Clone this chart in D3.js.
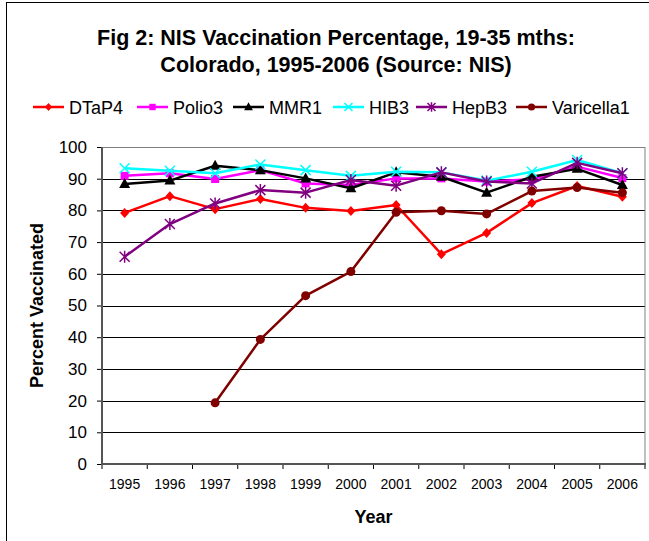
<!DOCTYPE html>
<meta charset="utf-8">
<style>
body { margin: 0; background: #fff; font-family: Arial, "Liberation Sans", sans-serif; }
svg text { font-family: Arial, "Liberation Sans", sans-serif; }
</style>
<body>
<script src="https://d3js.org/d3.v7.min.js"></script>
<script>
var years = ["1995","1996","1997","1998","1999","2000","2001","2002","2003","2004","2005","2006"];
var yTicks = [0,10,20,30,40,50,60,70,80,90,100];

var dtap4     = [79.2, 84.5, 80.4, 83.6, 80.8, 79.8, 81.7, 66.2, 72.9, 82.3, 87.7, 84.3];
var polio3    = [90.9, 91.7, 89.9, 92.7, 88.5, 88.0, 90.1, 90.1, 89.1, 89.8, 93.8, 90.2];
var mmr1      = [88.3, 89.4, 94.1, 92.7, 90.1, 87.0, 92.0, 90.6, 85.6, 90.6, 93.1, 88.0];
var hib3      = [93.3, 92.5, 91.7, 94.5, 92.7, 90.9, 92.2, 92.0, 89.4, 92.2, 95.9, 91.7];
var hepb3     = [65.4, 75.7, 82.2, 86.4, 85.6, 89.6, 87.8, 92.0, 89.1, 88.5, 95.0, 91.7];
var varicella = [null, null, 19.3, 39.3, 53.1, 60.7, 79.4, 79.9, 78.9, 86.1, 87.2, 85.6];

var series = [
  {name: "DTaP4", values: dtap4, color: "#ff0000", marker: "diamond"},
  {name: "Polio3", values: polio3, color: "#ff00ff", marker: "square"},
  {name: "MMR1", values: mmr1, color: "#000000", marker: "triangle"},
  {name: "HIB3", values: hib3, color: "#00ffff", marker: "x"},
  {name: "HepB3", values: hepb3, color: "#800080", marker: "star"},
  {name: "Varicella1", values: varicella, color: "#800000", marker: "circle"}
];

var width = 649, height = 541;
var plotLeft = 102, plotRight = 645, plotTop = 147, plotBottom = 464;

var svg = d3.select("body").append("svg")
    .attr("width", width)
    .attr("height", height);

// outer frame
svg.append("rect")
    .attr("x", 6.5).attr("y", 2.5)
    .attr("width", 660).attr("height", 600)
    .attr("fill", "none").attr("stroke", "#000").attr("stroke-width", 1);

var x = d3.scaleBand().domain(years).range([plotLeft, plotRight]);
var y = d3.scaleLinear().domain([0, 100]).range([plotBottom, plotTop]);

// gridlines
svg.append("g").selectAll("line")
    .data(yTicks.filter(function(d) { return d > 0 && d < 100; }))
  .enter().append("line")
    .attr("x1", plotLeft).attr("x2", plotRight)
    .attr("y1", function(d) { return Math.round(y(d)) + 0.5; })
    .attr("y2", function(d) { return Math.round(y(d)) + 0.5; })
    .attr("stroke", "#000").attr("stroke-width", 1);

// plot border
svg.append("rect")
    .attr("x", plotLeft).attr("y", plotTop + 0.5)
    .attr("width", plotRight - plotLeft).attr("height", plotBottom - plotTop)
    .attr("fill", "none").attr("stroke", "#808080").attr("stroke-width", 1);

// y axis
var yAxis = svg.append("g")
    .attr("transform", "translate(" + plotLeft + ",0)")
    .call(d3.axisLeft(y).tickValues(yTicks).tickSize(5).tickPadding(10));
yAxis.selectAll("text").attr("font-size", "17px").attr("fill", "#000");

// x axis
var xAxis = svg.append("g")
    .attr("transform", "translate(0," + plotBottom + ")")
    .call(d3.axisBottom(x).tickSize(0).tickPadding(15));
xAxis.selectAll("text").attr("font-size", "14px").attr("fill", "#000");
xAxis.select(".domain").remove();
yAxis.select(".domain").remove();

// category tick marks between bands
svg.append("g").selectAll("line")
    .data(d3.range(years.length + 1))
  .enter().append("line")
    .attr("x1", function(i) { return plotLeft + i * x.step(); })
    .attr("x2", function(i) { return plotLeft + i * x.step(); })
    .attr("y1", plotBottom).attr("y2", plotBottom + 5)
    .attr("stroke", "#000");

svg.append("line")
    .attr("x1", plotLeft).attr("x2", plotRight + 1)
    .attr("y1", plotBottom).attr("y2", plotBottom)
    .attr("stroke", "#555").attr("stroke-width", 2);
svg.append("line")
    .attr("x1", plotLeft).attr("x2", plotLeft)
    .attr("y1", plotTop).attr("y2", plotBottom + 1)
    .attr("stroke", "#555").attr("stroke-width", 2);

function cx(i) { return x(years[i]) + x.bandwidth() / 2; }

var line = d3.line()
    .defined(function(d) { return d != null; })
    .x(function(d, i) { return cx(i); })
    .y(function(d) { return y(d); });

function drawMarker(g, type, color, px, py, k) {
  k = k || 1;
  if (type === "diamond") {
    g.append("path").attr("d", "M" + px + "," + (py - 5 * k) + "L" + (px + 4.5 * k) + "," + py + "L" + px + "," + (py + 5 * k) + "L" + (px - 4.5 * k) + "," + py + "Z")
      .attr("fill", color);
  } else if (type === "square") {
    g.append("rect").attr("x", px - 4 * k).attr("y", py - 4 * k).attr("width", 8 * k).attr("height", 8 * k).attr("fill", color);
  } else if (type === "triangle") {
    g.append("path").attr("d", "M" + px + "," + (py - 6 * k) + "L" + (px + 5.5 * k) + "," + (py + 4 * k) + "L" + (px - 5.5 * k) + "," + (py + 4 * k) + "Z")
      .attr("fill", color);
  } else if (type === "x") {
    g.append("path").attr("d", "M" + (px - 5 * k) + "," + (py - 5 * k) + "L" + (px + 5 * k) + "," + (py + 5 * k) + "M" + (px + 5 * k) + "," + (py - 5 * k) + "L" + (px - 5 * k) + "," + (py + 5 * k))
      .attr("stroke", color).attr("stroke-width", 1.5);
  } else if (type === "star") {
    g.append("path").attr("d", "M" + (px - 5 * k) + "," + (py - 5 * k) + "L" + (px + 5 * k) + "," + (py + 5 * k) + "M" + (px + 5 * k) + "," + (py - 5 * k) + "L" + (px - 5 * k) + "," + (py + 5 * k) + "M" + px + "," + (py - 6 * k) + "L" + px + "," + (py + 6 * k))
      .attr("stroke", color).attr("stroke-width", 1.5);
  } else if (type === "circle") {
    g.append("circle").attr("cx", px).attr("cy", py).attr("r", 4.5 * k).attr("fill", color);
  }
}

series.forEach(function(s) {
  var g = svg.append("g");
  g.append("path")
    .datum(s.values)
    .attr("d", line)
    .attr("fill", "none")
    .attr("stroke", s.color)
    .attr("stroke-width", 2.5)
    .attr("stroke-linejoin", "round");
  s.values.forEach(function(v, i) {
    if (v != null) drawMarker(g, s.marker, s.color, cx(i), y(v));
  });
});

// titles
svg.append("text")
    .attr("x", 336).attr("y", 45)
    .attr("text-anchor", "middle")
    .attr("font-size", "21.5px").attr("font-weight", "bold")
    .text("Fig 2: NIS Vaccination Percentage, 19-35 mths:");
svg.append("text")
    .attr("x", 336).attr("y", 72)
    .attr("text-anchor", "middle")
    .attr("font-size", "21.5px").attr("font-weight", "bold")
    .text("Colorado, 1995-2006 (Source: NIS)");

svg.append("text")
    .attr("x", (plotLeft + plotRight) / 2).attr("y", 523)
    .attr("text-anchor", "middle")
    .attr("font-size", "18px").attr("font-weight", "bold")
    .text("Year");

svg.append("text")
    .attr("transform", "translate(43," + ((plotTop + plotBottom) / 2) + ") rotate(-90)")
    .attr("text-anchor", "middle")
    .attr("font-size", "18px").attr("font-weight", "bold")
    .text("Percent Vaccinated");

// legend
var legendX = [33, 137, 233, 333, 416, 516];
var legend = svg.append("g");
series.forEach(function(s, i) {
  var lx = legendX[i], ly = 107;
  var g = legend.append("g");
  g.append("line")
    .attr("x1", lx).attr("x2", lx + 31)
    .attr("y1", ly).attr("y2", ly)
    .attr("stroke", s.color).attr("stroke-width", 2.5);
  drawMarker(g, s.marker, s.color, lx + 15.5, ly, 0.8);
  g.append("text")
    .attr("x", lx + 36).attr("y", ly + 6.5)
    .attr("font-size", "18px")
    .text(s.name);
});
</script>
</body>
